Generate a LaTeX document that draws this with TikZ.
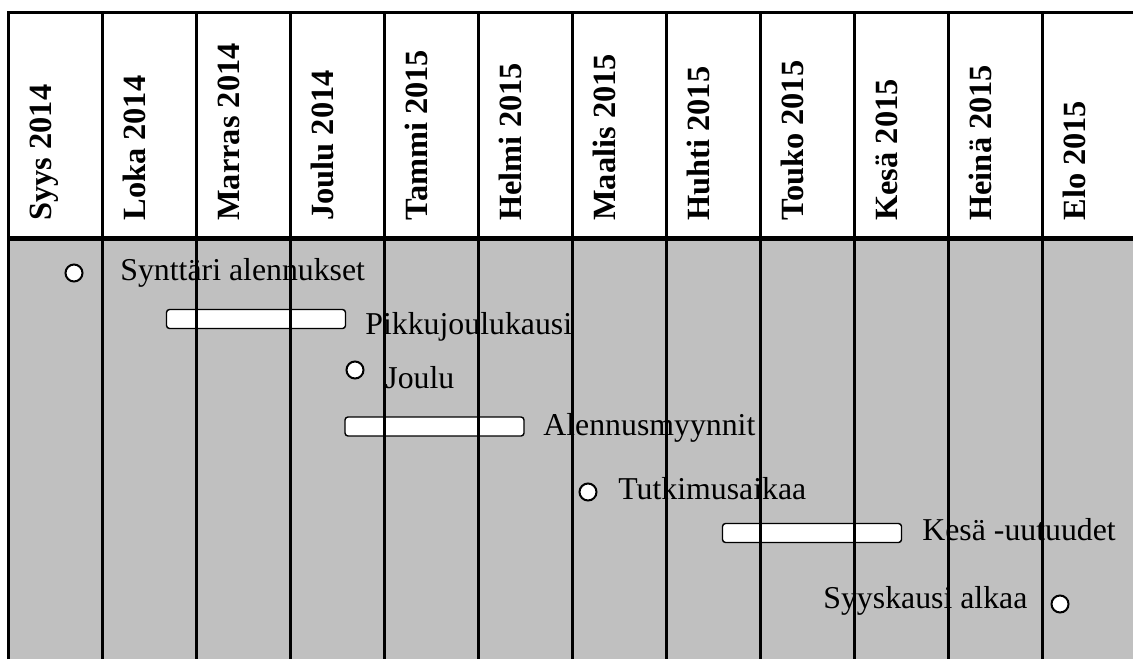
\documentclass[tikz,border=0pt]{standalone}
\usepackage{fontspec}
\setmainfont{Liberation Serif}
\usetikzlibrary{positioning}
\definecolor{tausta}{HTML}{C0C0C0}

\begin{document}
\begin{tikzpicture}[x=0.5pt,y=-0.5pt,
  month/.style={rotate=90,anchor=base west,inner sep=0pt,font=\fontsize{16.2}{19}\selectfont\bfseries},
  event/.style={anchor=base west,inner sep=0pt,font=\fontsize{15.9}{19}\selectfont},
  period/.style={draw,fill=white,rounded corners=1.5pt,line width=0.7pt,minimum width=89.5pt,minimum height=9.5pt,inner sep=0pt},
  moment/.style={draw,circle,fill=white,line width=1pt,minimum size=8.5pt,inner sep=0pt},
  rule/.style={line width=1.5pt}]
\useasboundingbox (0,0) rectangle (1133,659);
\fill[tausta] (8,238) rectangle (1133,659);

\node[month] (syys) at (51,221) {Syys 2014};
\node[month] (loka) at (145,221) {Loka 2014};
\node[month] (marras) at (239,221) {Marras 2014};
\node[month] (joulu) at (333,221) {Joulu 2014};
\node[month] (tammi) at (427,221) {Tammi 2015};
\node[month] (helmi) at (521,221) {Helmi 2015};
\node[month] (maalis) at (615,221) {Maalis 2015};
\node[month] (huhti) at (709,221) {Huhti 2015};
\node[month] (touko) at (803,221) {Touko 2015};
\node[month] (kesa) at (897,221) {Kesä 2015};
\node[month] (heina) at (991,221) {Heinä 2015};
\node[month] (elo) at (1085,221) {Elo 2015};

\node[moment] (c1) at (74,273) {};
\node[event] (synttari) at (120,280) {Synttäri alennukset};
\node[period] (b1) at (256,319) {};
\node[event] (pikkujoulu) at (365,334) {Pikkujoulukausi};
\node[moment] (c2) at (355,370) {};
\node[event] (jouluaika) at (385,388) {Joulu};
\node[period] (b2) at (434.5,426.5) {};
\node[event] (alennus) at (543,435) {Alennusmyynnit};
\node[moment] (c3) at (588,492) {};
\node[event] (tutkimus) at (618,499) {Tutkimusaikaa};
\node[period] (b3) at (812,533) {};
\node[event] (uutuudet) at (922,540) {Kesä -uutuudet};
\node[event] (syyskausi) at (823,608) {Syyskausi alkaa};
\node[moment] (c4) at (1060,604) {};

\draw[rule] (8,659) -- (8,12) -- (1133,12);
\draw[rule] (102,12) -- (102,659);
\draw[rule] (196,12) -- (196,659);
\draw[rule] (290,12) -- (290,659);
\draw[rule] (384,12) -- (384,659);
\draw[rule] (478,12) -- (478,659);
\draw[rule] (572,12) -- (572,659);
\draw[rule] (666,12) -- (666,659);
\draw[rule] (760,12) -- (760,659);
\draw[rule] (854,12) -- (854,659);
\draw[rule] (948,12) -- (948,659);
\draw[rule] (1042,12) -- (1042,659);
\draw[line width=2.5pt] (8,238) -- (1133,238);

\end{tikzpicture}
\end{document}
